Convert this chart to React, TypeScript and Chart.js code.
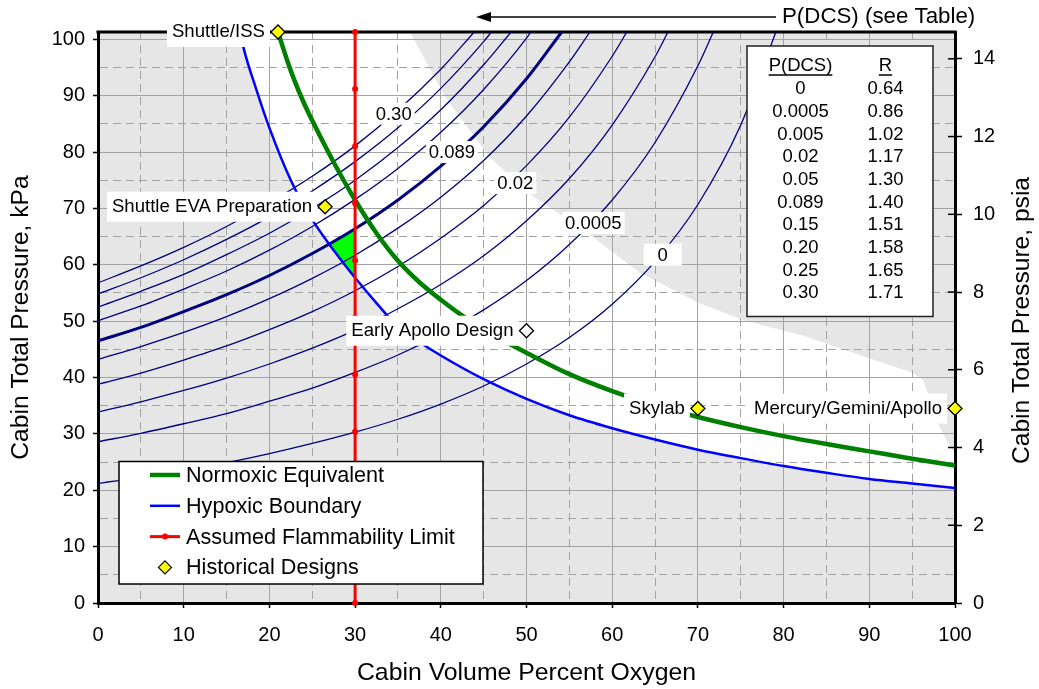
import React, { useEffect, useRef } from 'react';
import { Chart, registerables } from 'chart.js';

Chart.register(...registerables);

const FONT = "'Liberation Sans', Arial, Helvetica, sans-serif";

// ---- axes ----
const X_MIN = 0;
const X_MAX = 100;
const KPA_MAX = 101.3;
const PSI_MAX = 14.69;
const xTickValues = [0, 5, 10, 15, 20, 25, 30, 35, 40, 45, 50, 55, 60, 65, 70, 75, 80, 85, 90, 95, 100];
const kpaTickValues = [0, 5, 10, 15, 20, 25, 30, 35, 40, 45, 50, 55, 60, 65, 70, 75, 80, 85, 90, 95, 100];
const psiTickValues = [0, 2, 4, 6, 8, 10, 12, 14];

// ---- series ----
const flammabilityX = [30, 30, 30, 30, 30, 30, 30, 30, 30, 30, 30];
const flammabilityY = [0, 10.13, 20.26, 30.39, 40.52, 50.65, 60.78, 70.91, 81.04, 91.17, 101.3];

const hypoxicX = [16.6, 17, 18.5, 20, 22.5, 25, 27, 28.5, 30, 32.5, 35, 37.5, 40, 45, 50, 55, 60, 65, 70, 75, 80, 85, 90, 95, 100];
const hypoxicY = [101.3, 98.4, 91.0, 84.3, 75.0, 68.0, 63.6, 60.6, 57.7, 53.2, 49.0, 46.3, 43.9, 39.7, 36.2, 33.3, 31.0, 29.0, 27.2, 25.7, 24.3, 23.1, 22.0, 21.2, 20.4];

const normoxicX = [21, 22, 23, 24, 25, 27.5, 30, 32.5, 35, 37.5, 40, 42.5, 45, 47.5, 50, 55, 60, 65, 70, 75, 80, 85, 90, 95, 100];
const normoxicY = [101.3, 96.6, 92.4, 88.8, 85.6, 78.2, 71.5, 65.6, 60.7, 56.9, 53.8, 51.0, 48.6, 46.4, 44.4, 40.6, 37.6, 35.1, 33.0, 31.2, 29.6, 28.2, 26.9, 25.6, 24.4];

// upper edge of the white (acceptable) zone
const safeLimitX = [36.4, 40.5, 45.7, 50.8, 57.1, 63.2, 70.2, 75.7, 81.9, 88.9, 95.1, 96.3, 98.2, 99.4, 100];
const safeLimitY = [101.3, 89.8, 79.1, 72.1, 65.7, 58.6, 53.2, 50.0, 47.6, 44.0, 40.8, 39.5, 31.3, 27.7, 26.6];

// green acceptable design zone
const designZoneX = [27, 28.5, 30, 30, 28.5, 27];
const designZoneY = [63.7, 65.0, 66.4, 57.7, 60.6, 63.7];

// DCS iso-risk lines
const tablePdcs = ['0', '0.0005', '0.005', '0.02', '0.05', '0.089', '0.15', '0.20', '0.25', '0.30'];
const tableR = ['0.64', '0.86', '1.02', '1.17', '1.30', '1.40', '1.51', '1.58', '1.65', '1.71'];
const contourX = [0, 5, 10, 15, 20, 25, 30, 35, 40, 45, 50, 55, 60, 65, 70, 75];
const contourY = [
  [21.2, 22.3, 23.6, 24.9, 26.5, 28.3, 30.3, 32.6, 35.3, 38.5, 42.4, 47.1, 53.0, 60.6, 70.7, 84.8],
  [28.6, 30.1, 31.8, 33.6, 35.8, 38.1, 40.9, 44.0, 47.7, 52.0, 57.2, 63.6, 71.5, 81.7, 95.3],
  [33.9, 35.7, 37.7, 39.9, 42.4, 45.2, 48.4, 52.2, 56.5, 61.6, 67.8, 75.3, 84.8, 96.9],
  [38.8, 40.8, 43.1, 45.6, 48.5, 51.7, 55.4, 59.7, 64.7, 70.5, 77.6, 86.2, 97.0],
  [43.2, 45.5, 48.0, 50.8, 54.0, 57.6, 61.7, 66.5, 72.0, 78.5, 86.4, 96.0],
  [46.5, 48.9, 51.7, 54.7, 58.1, 62.0, 66.4, 71.5, 77.5, 84.5, 93.0],
  [50.1, 52.7, 55.7, 58.9, 62.6, 66.8, 71.6, 77.1, 83.5, 91.1, 100.2],
  [52.5, 55.3, 58.3, 61.8, 65.6, 70.0, 75.0, 80.8, 87.5, 95.5],
  [54.8, 57.7, 60.9, 64.5, 68.5, 73.1, 78.3, 84.3, 91.3, 99.6],
  [56.8, 59.8, 63.1, 66.8, 71.0, 75.7, 81.1, 87.4, 94.7],
];
const contourTopX = [79.1, 71.8, 66.5, 61.7, 57.4, 54.1, 50.5, 48.2, 45.9, 43.9];
const boldContourIndex = 5;

const contourLabelText = ['0', '0.0005', '0.02', '0.089', '0.30'];
const contourLabelX = [65.9, 57.8, 48.7, 41.3, 34.5];
const contourLabelY = [61.8, 67.4, 74.5, 80.0, 86.8];

// historical designs
const historyNames = ['Shuttle/ISS', 'Shuttle EVA Preparation', 'Early Apollo Design', 'Skylab', 'Mercury/Gemini/Apollo'];
const historyX = [21, 26.5, 50, 70, 100];
const historyY = [101.3, 70.3, 48.3, 34.5, 34.5];
const historyFill = ['#ffff00', '#ffff00', '#ffffff', '#ffff00', '#ffff00'];

const legendNames = ['Normoxic Equivalent', 'Hypoxic Boundary', 'Assumed Flammability Limit', 'Historical Designs'];
const legendColors = ['#008000', '#0000ff', '#ff0000', '#ffff00'];
const legendWidths = [4.5, 2.5, 3, 0];

const GREEN = '#008000';
const BLUE = '#0000ff';
const RED = '#ff0000';
const NAVY = '#000080';
const GRID = '#a3a3a3';

const pts = (xs: number[], ys: number[]) => xs.map((x, i) => ({ x, y: ys[i] }));

function whiteBox(ctx: CanvasRenderingContext2D, x1: number, y1: number, x2: number, y2: number) {
  ctx.fillStyle = '#ffffff';
  ctx.fillRect(x1, y1, x2 - x1, y2 - y1);
}

const overlayPlugin = {
  id: 'overlay',
  beforeDraw(chart: any) {
    const { ctx, chartArea: a, scales } = chart;
    const X = scales.x;
    const Y = scales.y;
    ctx.save();
    ctx.fillStyle = '#e6e6e6';
    ctx.fillRect(a.left, a.top, a.right - a.left, a.bottom - a.top);
    ctx.beginPath();
    hypoxicX.forEach((v, i) => {
      const px = X.getPixelForValue(v);
      const py = Y.getPixelForValue(hypoxicY[i]);
      if (i) ctx.lineTo(px, py);
      else ctx.moveTo(px, py);
    });
    for (let i = safeLimitX.length - 1; i >= 0; i--) {
      ctx.lineTo(X.getPixelForValue(safeLimitX[i]), Y.getPixelForValue(safeLimitY[i]));
    }
    ctx.closePath();
    ctx.fillStyle = '#ffffff';
    ctx.fill();
    ctx.restore();
  },
  beforeDatasetsDraw(chart: any) {
    const { ctx, chartArea: a, scales } = chart;
    ctx.save();
    ctx.strokeStyle = '#000';
    ctx.lineWidth = 3;
    ctx.beginPath();
    ctx.moveTo(a.left - 1.5, a.top);
    ctx.lineTo(a.right + 1.5, a.top);
    ctx.stroke();
    // inner half of the right-axis ticks
    ctx.lineWidth = 1.5;
    psiTickValues.forEach((v) => {
      const py = scales.y2.getPixelForValue(v);
      ctx.beginPath();
      ctx.moveTo(a.right - 7, py);
      ctx.lineTo(a.right, py);
      ctx.stroke();
    });
    ctx.restore();
  },
  beforeDatasetDraw(chart: any, args: any) {
    if (args.index !== 0) return;
    const { ctx, chartArea: a, scales } = chart;
    const X = scales.x;
    const Y = scales.y;
    ctx.save();
    ctx.textBaseline = 'middle';

    // contour labels
    ctx.font = `18.5px ${FONT}`;
    ctx.textAlign = 'center';
    contourLabelText.forEach((t, i) => {
      const cx = X.getPixelForValue(contourLabelX[i]);
      const cy = Y.getPixelForValue(contourLabelY[i]);
      const w = Math.max(ctx.measureText(t).width + 6, 38);
      whiteBox(ctx, cx - w / 2, cy - 11, cx + w / 2, cy + 11);
      ctx.fillStyle = '#000';
      ctx.fillText(t, cx, cy + 1);
    });

    // historical design labels
    ctx.font = `18.6px ${FONT}`;
    ctx.textAlign = 'right';
    historyNames.forEach((t, i) => {
      const mx = X.getPixelForValue(historyX[i]);
      const my = Y.getPixelForValue(historyY[i]);
      const right = mx - 13;
      const w = ctx.measureText(t).width;
      whiteBox(ctx, right - w - 5, my - 15, right + 5, my + 15);
      ctx.fillStyle = '#000';
      ctx.fillText(t, right, my);
    });

    // table
    ctx.font = `18.5px ${FONT}`;
    const tx1 = a.right - 208;
    const ty1 = a.top + 14;
    const tx2 = a.right - 22;
    const ty2 = a.top + 284.5;
    whiteBox(ctx, tx1, ty1, tx2, ty2);
    ctx.strokeStyle = '#222';
    ctx.lineWidth = 1.5;
    ctx.strokeRect(tx1, ty1, tx2 - tx1, ty2 - ty1);
    const c1 = tx1 + 53.5;
    const c2 = tx1 + 138.5;
    ctx.textAlign = 'center';
    ctx.fillStyle = '#000';
    const hy = ty1 + 20;
    ctx.fillText('P(DCS)', c1, hy);
    ctx.fillText('R', c2, hy);
    const w1 = ctx.measureText('P(DCS)').width;
    const w2 = ctx.measureText('R').width;
    ctx.strokeStyle = '#000';
    ctx.lineWidth = 1.3;
    ctx.beginPath();
    ctx.moveTo(c1 - w1 / 2, hy + 9);
    ctx.lineTo(c1 + w1 / 2, hy + 9);
    ctx.moveTo(c2 - w2 / 2, hy + 9);
    ctx.lineTo(c2 + w2 / 2, hy + 9);
    ctx.stroke();
    tablePdcs.forEach((p, i) => {
      const ry = ty1 + 43.3 + i * 22.67;
      ctx.fillText(p, c1, ry);
      ctx.fillText(tableR[i], c2, ry);
    });

    // legend
    const lx1 = a.left + 21;
    const ly1 = a.bottom - 141.5;
    const lx2 = a.left + 385;
    const ly2 = a.bottom - 19;
    whiteBox(ctx, lx1, ly1, lx2, ly2);
    ctx.strokeStyle = '#000';
    ctx.lineWidth = 1.5;
    ctx.strokeRect(lx1, ly1, lx2 - lx1, ly2 - ly1);
    ctx.font = `21.6px ${FONT}`;
    ctx.textAlign = 'left';
    legendNames.forEach((name, i) => {
      const cy = ly1 + 13.5 + i * 30.8;
      const s1 = lx1 + 31;
      const s2 = lx1 + 61;
      if (i < 3) {
        ctx.beginPath();
        ctx.moveTo(s1, cy);
        ctx.lineTo(s2, cy);
        ctx.strokeStyle = legendColors[i];
        ctx.lineWidth = legendWidths[i];
        ctx.stroke();
      }
      if (i === 2) {
        ctx.beginPath();
        ctx.arc((s1 + s2) / 2, cy, 3, 0, Math.PI * 2);
        ctx.fillStyle = RED;
        ctx.fill();
      }
      if (i === 3) {
        const cx = (s1 + s2) / 2;
        ctx.beginPath();
        ctx.moveTo(cx, cy - 6.5);
        ctx.lineTo(cx + 6.5, cy);
        ctx.lineTo(cx, cy + 6.5);
        ctx.lineTo(cx - 6.5, cy);
        ctx.closePath();
        ctx.fillStyle = legendColors[3];
        ctx.fill();
        ctx.strokeStyle = '#000';
        ctx.lineWidth = 1.2;
        ctx.stroke();
      }
      ctx.fillStyle = '#000';
      ctx.fillText(name, lx1 + 67, cy + 1);
    });
    ctx.restore();
  },
  afterDraw(chart: any) {
    const { ctx, chartArea: a } = chart;
    ctx.save();
    // P(DCS) arrow and caption
    const ay = 17;
    const tip = a.left + 378;
    const tail = a.right - 179;
    ctx.strokeStyle = '#000';
    ctx.lineWidth = 1.5;
    ctx.beginPath();
    ctx.moveTo(tail, ay);
    ctx.lineTo(tip + 10, ay);
    ctx.stroke();
    ctx.beginPath();
    ctx.moveTo(tip, ay);
    ctx.lineTo(tip + 15, ay - 5);
    ctx.lineTo(tip + 15, ay + 5);
    ctx.closePath();
    ctx.fillStyle = '#000';
    ctx.fill();
    ctx.font = `22.3px ${FONT}`;
    ctx.textAlign = 'left';
    ctx.textBaseline = 'middle';
    ctx.fillText('P(DCS) (see Table)', a.right - 173, ay);
    // right axis title
    ctx.translate(1022, (a.top + a.bottom) / 2 + 3);
    ctx.rotate(-Math.PI / 2);
    ctx.textAlign = 'center';
    ctx.font = `24.6px ${FONT}`;
    ctx.fillText('Cabin Total Pressure, psia', 0, 0);
    ctx.restore();
  },
};

const majorDash = (ctx: any) => (ctx.tick && Math.abs(ctx.tick.value % 10) > 0.01 ? [8, 5] : []);
const majorTickColor = (ctx: any) => (ctx.tick && Math.abs(ctx.tick.value % 10) > 0.01 ? 'rgba(0,0,0,0)' : '#000');
const tenLabel = (v: any) => (Math.abs(Number(v) % 10) < 0.01 ? String(v) : '');

export default function App() {
  const ref = useRef<HTMLCanvasElement>(null);

  useEffect(() => {
    if (!ref.current) return;
    const contourSets = contourY.map((ys, i) => ({
      label: 'P(DCS) ' + tablePdcs[i],
      data: [...pts(contourX.slice(0, ys.length), ys), { x: contourTopX[i], y: KPA_MAX }],
      borderColor: NAVY,
      borderWidth: i === boldContourIndex ? 3 : 1.3,
      pointRadius: 0,
      fill: false,
      cubicInterpolationMode: 'monotone',
      order: 4,
    }));

    const chart = new Chart(ref.current, {
      type: 'line',
      data: {
        datasets: [
          {
            label: 'Historical Designs',
            data: pts(historyX, historyY),
            showLine: false,
            pointStyle: 'rectRot',
            pointRadius: 7,
            pointBackgroundColor: historyFill,
            pointBorderColor: '#000',
            pointBorderWidth: 1.3,
            order: 0,
            clip: false,
          },
          {
            label: 'Assumed Flammability Limit',
            data: pts(flammabilityX, flammabilityY),
            borderColor: RED,
            borderWidth: 3,
            pointRadius: 3,
            pointBackgroundColor: RED,
            pointBorderWidth: 0,
            order: 1,
            clip: false,
          },
          {
            label: 'Normoxic Equivalent',
            data: pts(normoxicX, normoxicY),
            borderColor: GREEN,
            borderWidth: 4.5,
            pointRadius: 0,
            cubicInterpolationMode: 'monotone',
            order: 2,
          },
          {
            label: 'Hypoxic Boundary',
            data: pts(hypoxicX, hypoxicY),
            borderColor: BLUE,
            borderWidth: 2.5,
            pointRadius: 0,
            cubicInterpolationMode: 'monotone',
            order: 3,
          },
          ...contourSets,
          {
            label: 'Design Zone',
            data: pts(designZoneX, designZoneY),
            borderWidth: 0,
            borderColor: 'rgba(0,0,0,0)',
            backgroundColor: '#00ff00',
            fill: 'shape',
            pointRadius: 0,
            order: 10,
          },
        ] as any,
      },
      options: {
        animation: false,
        responsive: false,
        devicePixelRatio: 1,
        events: [],
        layout: { padding: { top: 32, left: 0, right: 0, bottom: 0 } },
        font: { family: FONT },
        plugins: {
          legend: { display: false },
          tooltip: { enabled: false },
          title: { display: false },
        },
        scales: {
          x: {
            type: 'linear',
            min: X_MIN,
            max: X_MAX,
            afterBuildTicks: (s: any) => {
              s.ticks = xTickValues.map((value) => ({ value }));
            },
            afterFit: (s: any) => {
              s.height = 86;
            },
            grid: {
              color: GRID,
              lineWidth: 1,
              drawTicks: true,
              tickLength: 5,
              tickWidth: 1.5,
              tickColor: majorTickColor,
            },
            border: { display: true, color: '#000', width: 3, dash: majorDash },
            ticks: {
              callback: tenLabel,
              autoSkip: false,
              maxRotation: 0,
              padding: 15,
              color: '#000',
              font: { family: FONT, size: 20 },
            },
            title: {
              display: true,
              text: 'Cabin Volume Percent Oxygen',
              color: '#000',
              font: { family: FONT, size: 24.8 },
              padding: { top: 0, bottom: 1 },
            },
          },
          y: {
            type: 'linear',
            position: 'left',
            min: 0,
            max: KPA_MAX,
            afterBuildTicks: (s: any) => {
              s.ticks = kpaTickValues.map((value) => ({ value }));
            },
            afterFit: (s: any) => {
              s.width = 98;
            },
            grid: {
              color: GRID,
              lineWidth: 1,
              drawTicks: true,
              tickLength: 5,
              tickWidth: 1.5,
              tickColor: majorTickColor,
            },
            border: { display: true, color: '#000', width: 3, dash: majorDash },
            ticks: {
              callback: tenLabel,
              autoSkip: false,
              padding: 8,
              color: '#000',
              font: { family: FONT, size: 20 },
            },
            title: {
              display: true,
              text: 'Cabin Total Pressure, kPa',
              color: '#000',
              font: { family: FONT, size: 24.6 },
              padding: { top: 6, bottom: 0 },
            },
          },
          y2: {
            type: 'linear',
            position: 'right',
            min: 0,
            max: PSI_MAX,
            afterBuildTicks: (s: any) => {
              s.ticks = psiTickValues.map((value) => ({ value }));
            },
            afterFit: (s: any) => {
              s.width = 84;
            },
            grid: {
              drawOnChartArea: false,
              drawTicks: true,
              tickLength: 7,
              tickWidth: 1.5,
              tickColor: '#000',
              color: '#000',
            },
            border: { display: true, color: '#000', width: 3 },
            ticks: {
              autoSkip: false,
              padding: 11,
              color: '#000',
              font: { family: FONT, size: 20 },
            },
            title: { display: false },
          },
        },
      } as any,
      plugins: [overlayPlugin],
    });
    return () => chart.destroy();
  }, []);

  return (
    <div style={{ position: 'fixed', left: 0, top: 0, width: 1039, height: 689, background: '#fff' }}>
      <canvas ref={ref} width={1039} height={689} style={{ display: 'block', width: 1039, height: 689 }} />
    </div>
  );
}
